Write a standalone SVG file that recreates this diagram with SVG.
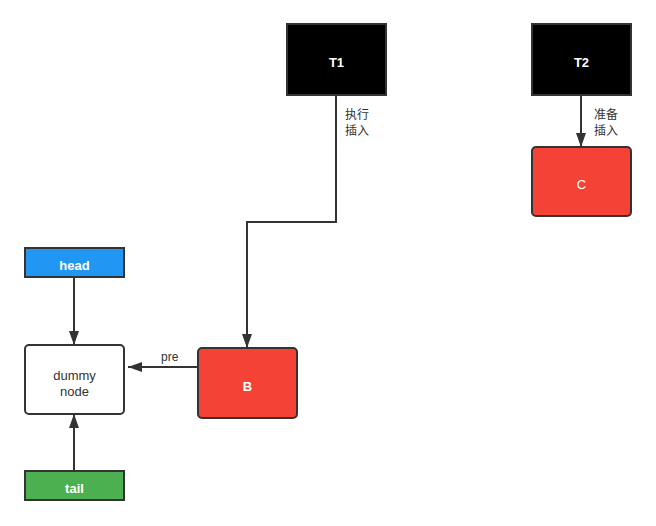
<svg xmlns="http://www.w3.org/2000/svg" width="656" height="526" viewBox="0 0 656 526">
<style>
.box{stroke:#333;stroke-width:2}
.lbl{font-family:"Liberation Sans","Noto Sans CJK SC",sans-serif;font-size:13px;text-anchor:middle;dominant-baseline:central}
.w{fill:#fff;font-weight:bold}
.e{fill:#333;font-size:12px;text-anchor:start}
.edge{fill:none;stroke:#333;stroke-width:2}
</style>
<defs>
<marker id="a" markerWidth="14" markerHeight="10" refX="14" refY="5" orient="auto" markerUnits="userSpaceOnUse" viewBox="0 0 14 10">
<path d="M0,0 L14,5 L0,10 z" fill="#333"/>
</marker>
</defs>
<rect width="656" height="526" fill="#fff"/>
<g id="connectors">
<path class="edge" d="M336,95 V222 H247 V348" marker-end="url(#a)"/>
<path class="edge" d="M581,95 V147" marker-end="url(#a)"/>
<path class="edge" d="M74,277 V345" marker-end="url(#a)"/>
<path class="edge" d="M74,471 V414" marker-end="url(#a)"/>
<path class="edge" d="M198,367 H128" marker-end="url(#a)"/>
<text class="lbl e" x="345" y="115">执行</text>
<text class="lbl e" x="345" y="131">插入</text>
<text class="lbl e" x="594" y="115">准备</text>
<text class="lbl e" x="594" y="131">插入</text>
<text class="lbl e" x="161" y="357">pre</text>
</g>
<g id="T1"><rect class="box" x="287" y="24" width="99" height="71" fill="#000"/><text class="lbl w" x="336.5" y="62">T1</text></g>
<g id="T2"><rect class="box" x="532" y="24" width="99" height="71" fill="#000"/><text class="lbl w" x="581.5" y="62">T2</text></g>
<g id="C"><rect class="box" x="532" y="147" width="99" height="69" rx="4" fill="#f44336"/><text class="lbl" fill="#fff" x="581.5" y="184">C</text></g>
<g id="head"><rect class="box" x="25" y="248" width="99" height="29" fill="#2196f3"/><text class="lbl w" x="74.5" y="265">head</text></g>
<g id="dummy"><rect class="box" x="25" y="345" width="99" height="69" rx="4" fill="#fff"/><text class="lbl" fill="#333" x="74.5" y="375">dummy</text><text class="lbl" fill="#333" x="74.5" y="391">node</text></g>
<g id="B"><rect class="box" x="198" y="348" width="99" height="70" rx="4" fill="#f44336"/><text class="lbl w" x="247.5" y="386">B</text></g>
<g id="tail"><rect class="box" x="25" y="471" width="99" height="29" fill="#4caf50"/><text class="lbl w" x="74.5" y="488">tail</text></g>
</svg>
